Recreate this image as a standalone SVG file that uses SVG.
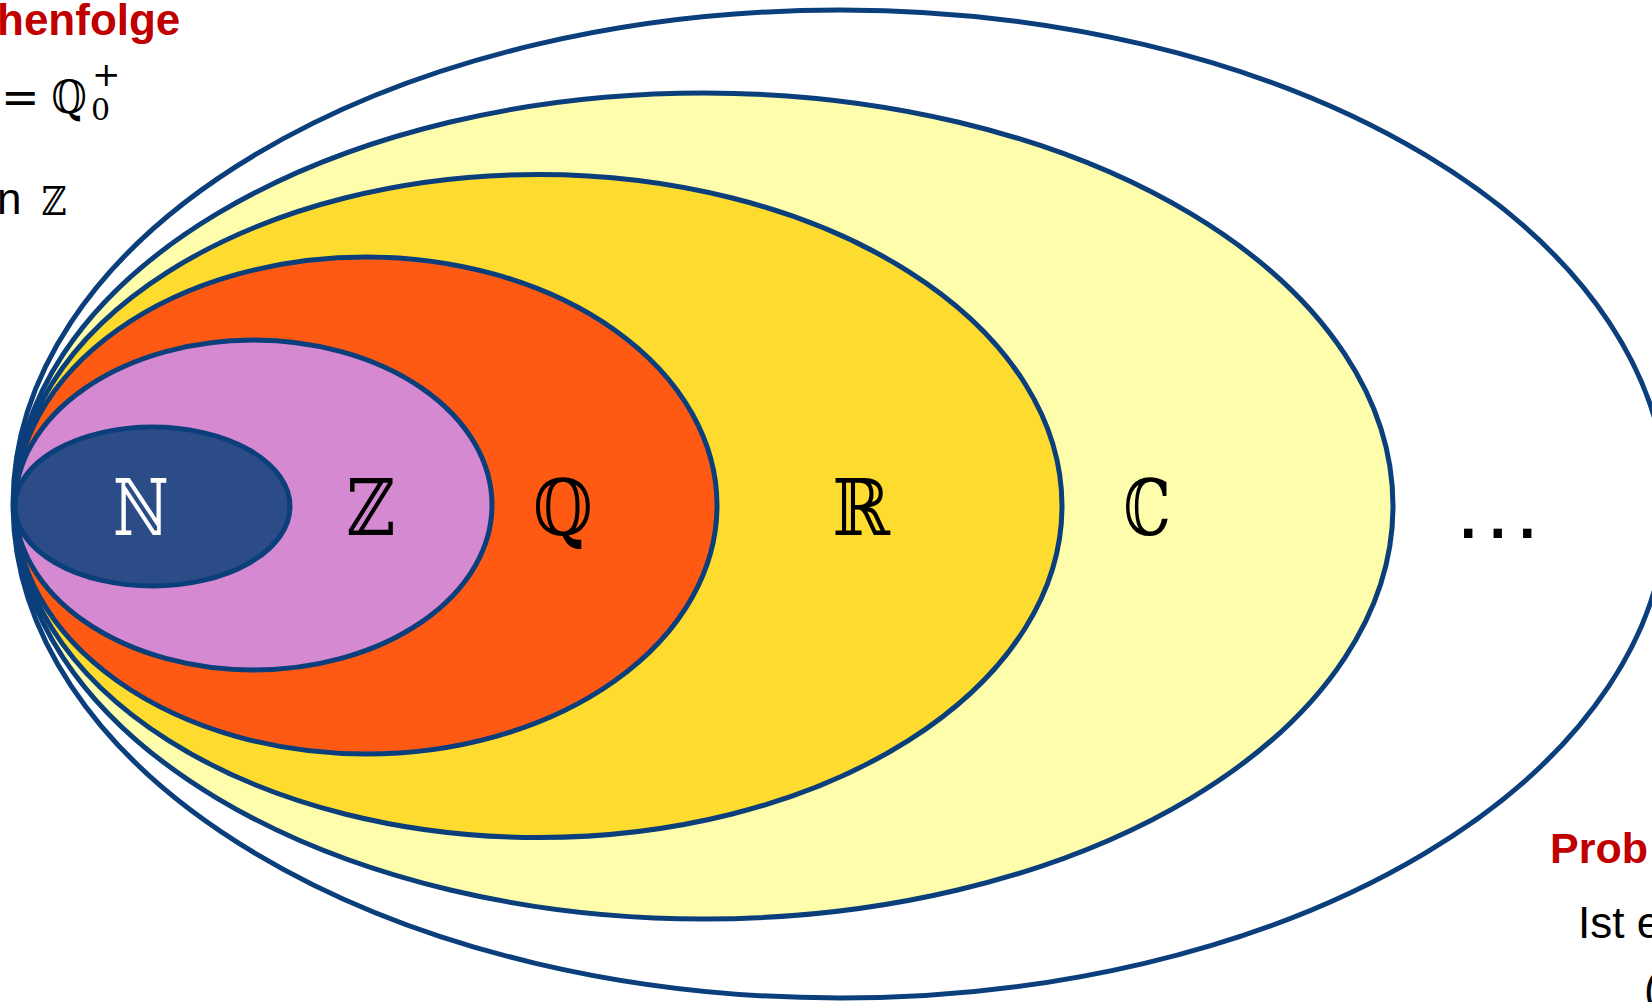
<svg xmlns="http://www.w3.org/2000/svg" width="1652" height="1002" viewBox="0 0 1652 1002">
<style>
.set{stroke:#0b3f7c;stroke-width:5}
.sym{font-family:"DejaVu Serif","DejaVu Sans",serif;font-size:78px;text-anchor:middle}
.red{font-family:"Liberation Sans",Arial,sans-serif;font-weight:bold;fill:#c00000}
.txt{font-family:"Liberation Sans",Arial,sans-serif;fill:#000}
.math{font-family:"DejaVu Serif","DejaVu Sans",serif;fill:#000}
</style>
<rect width="1652" height="1002" fill="#ffffff"/>
<g id="outer"><ellipse class="set" cx="840" cy="504" rx="827" ry="494" fill="#ffffff"/></g>
<g id="C"><ellipse class="set" cx="704" cy="506" rx="689" ry="413" fill="#fefdab"/></g>
<g id="R"><ellipse class="set" cx="538.5" cy="506" rx="523.5" ry="331.5" fill="#fedb2f"/></g>
<g id="Q"><ellipse class="set" cx="366" cy="505.5" rx="351" ry="248.5" fill="#fe5a13"/></g>
<g id="Z"><ellipse class="set" cx="253.5" cy="505" rx="238.5" ry="165" fill="#d589d0"/></g>
<g id="N"><ellipse class="set" cx="152.5" cy="506.5" rx="137.5" ry="79.5" fill="#2c4c87"/></g>
<g id="labels">
<text class="sym" transform="translate(141 535) scale(0.78 1)" fill="#ffffff">ℕ</text>
<text class="sym" transform="translate(371 535) scale(0.86 1)">ℤ</text>
<text class="sym" transform="translate(563 535) scale(0.88 1)">ℚ</text>
<text class="sym" transform="translate(861 535) scale(0.89 1)">ℝ</text>
<text class="sym" transform="translate(1147 535) scale(0.76 1)">ℂ</text>
<text class="txt" x="1456" y="538" font-size="88" letter-spacing="5">...</text>
</g>
<g id="connectors"></g>
<g id="topleft">
<text class="red" x="-3" y="35" font-size="44">henfolge</text>
<text class="math" x="1" y="113" font-size="46">=</text>
<text class="math" transform="translate(69 113) scale(0.88 1)" font-size="46" text-anchor="middle">ℚ</text>
<text class="math" x="91" y="120" font-size="30">0</text>
<text class="math" x="92" y="86" font-size="34">+</text>
<text class="txt" x="-3" y="214" font-size="44">n</text>
<text class="math" transform="translate(54 215) scale(0.86 1)" font-size="40" text-anchor="middle">ℤ</text>
</g>
<g id="bottomright">
<text class="red" x="1550" y="863" font-size="43">Prob</text>
<text class="txt" x="1578" y="938" font-size="44">Ist e</text>
<text class="txt" x="1644" y="1004" font-size="44">(</text>
</g>
</svg>
